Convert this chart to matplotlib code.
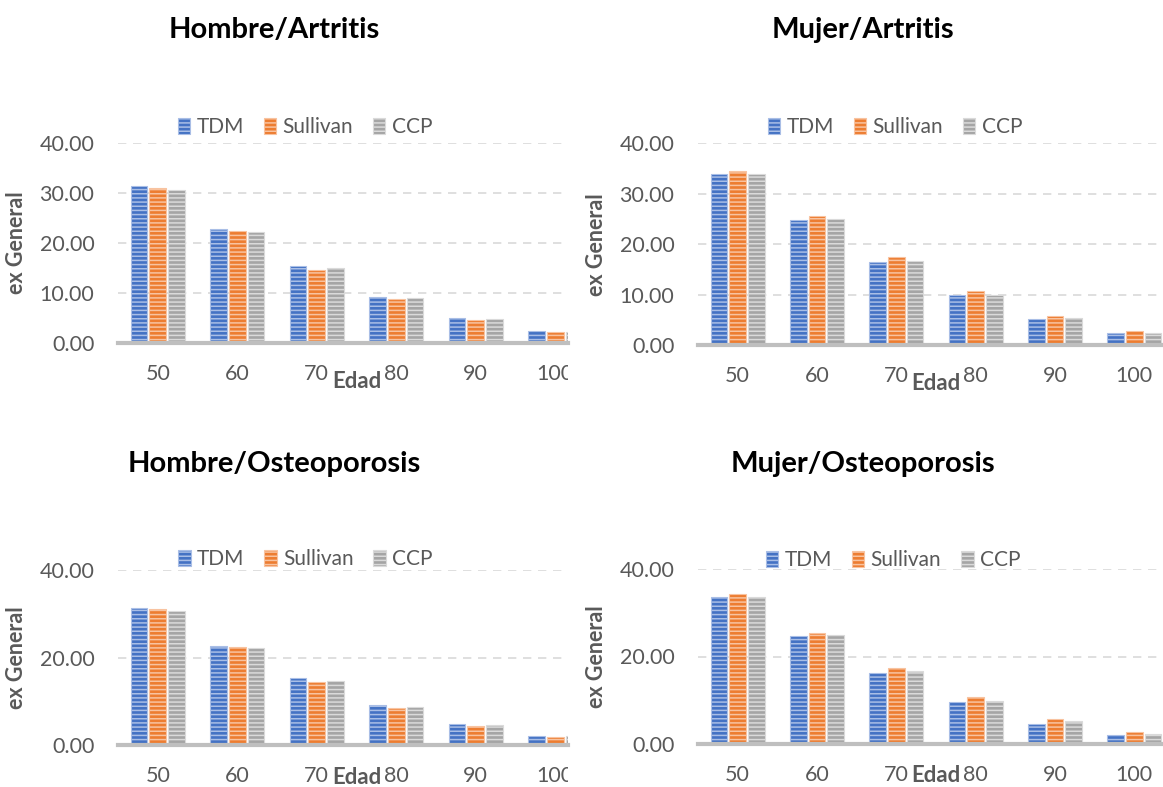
import numpy as np
import matplotlib
matplotlib.use('Agg')
import matplotlib.pyplot as plt
from matplotlib.patches import Rectangle, Patch

plt.rcParams['font.family'] = ['Lato', 'DejaVu Sans']
plt.rcParams['hatch.linewidth'] = 1.1

edad = [50, 60, 70, 80, 90, 100]
series = ['TDM', 'Sullivan', 'CCP']

hombre_artritis_tdm = [31.3, 22.8, 15.4, 9.2, 5.0, 2.4]
hombre_artritis_sul = [30.9, 22.3, 14.6, 8.7, 4.5, 2.1]
hombre_artritis_ccp = [30.5, 22.2, 14.9, 8.9, 4.8, 2.2]

mujer_artritis_tdm = [33.9, 24.7, 16.5, 9.9, 5.1, 2.3]
mujer_artritis_sul = [34.5, 25.5, 17.4, 10.7, 5.8, 2.8]
mujer_artritis_ccp = [33.9, 25.0, 16.7, 10.0, 5.3, 2.4]

hombre_osteo_tdm = [31.3, 22.7, 15.4, 9.2, 4.8, 2.1]
hombre_osteo_sul = [31.0, 22.3, 14.5, 8.5, 4.3, 1.9]
hombre_osteo_ccp = [30.7, 22.2, 14.7, 8.8, 4.6, 2.0]

mujer_osteo_tdm = [33.7, 24.6, 16.3, 9.5, 4.6, 2.0]
mujer_osteo_sul = [34.4, 25.4, 17.3, 10.7, 5.8, 2.8]
mujer_osteo_ccp = [33.7, 24.9, 16.7, 9.9, 5.2, 2.4]

titles = ['Hombre/Artritis', 'Mujer/Artritis', 'Hombre/Osteoporosis', 'Mujer/Osteoporosis']

# fill color, stripe color
colors = [('#4472C4', '#A9BEE6'), ('#ED7D31', '#F8C3A0'), ('#A5A5A5', '#DADADA')]
txt_gray = '#595959'

fig = plt.figure(figsize=(11.63, 7.87), dpi=100)

# panel boxes in pixels: left, axis zero y, visible width, height, full chart width
W, H = 1163.0, 787.0
panels = [
    (118, 343, 450, 200, 477, [0, 10, 20, 30, 40], (hombre_artritis_tdm, hombre_artritis_sul, hombre_artritis_ccp), (0.392, 1.08), 39),
    (698, 345, 476, 201.7, 476, [0, 10, 20, 30, 40], (mujer_artritis_tdm, mujer_artritis_sul, mujer_artritis_ccp), (0.414, 1.081), 39),
    (118, 745, 450, 175, 477, [0, 20, 40], (hombre_osteo_tdm, hombre_osteo_sul, hombre_osteo_ccp), (0.393, 1.063), 32),
    (698, 744, 476, 175, 476, [0, 20, 40], (mujer_osteo_tdm, mujer_osteo_sul, mujer_osteo_ccp), (0.41, 1.051), 32),
]

x = np.arange(len(edad))
bw = 0.21
step = 0.235

for left, zero, w, h, full_w, yt, data, leg_pos, edad_off in panels:
    ax = fig.add_axes([left / W, 1 - zero / H, w / W, h / H])
    for i in range(3):
        ax.bar(x + (i - 1) * step, data[i], bw, color=colors[i][0],
               edgecolor=colors[i][1], linewidth=0.8, hatch='----', zorder=3)
    # left charts are cut off on the right side
    ax.set_xlim(-0.5, -0.5 + len(edad) * w / full_w)
    ax.set_ylim(0, 40)
    ax.set_yticks(yt)
    ax.set_yticklabels(['%.2f' % v for v in yt])
    ax.set_xticks(x)
    ax.set_xticklabels([str(e) for e in edad])
    ax.tick_params(length=0, labelsize=15.5, labelcolor=txt_gray)
    ax.tick_params(axis='x', pad=15)
    ax.tick_params(axis='y', pad=17)
    for s in ['top', 'right', 'left']:
        ax.spines[s].set_visible(False)
    ax.spines['bottom'].set_color('#BFBFBF')
    ax.spines['bottom'].set_linewidth(3)
    ax.spines['bottom'].set_zorder(4)
    ax.yaxis.grid(True, color='#D9D9D9', linewidth=1.2, linestyle=(0, (5, 4)))
    ax.set_axisbelow(True)
    ax.set_ylabel('ex General', fontsize=15.5, fontweight='bold', color=txt_gray)
    ax.yaxis.set_label_coords(-91.0 / w, 0.5)
    ax.text((full_w / 2.0) / w, -edad_off / h, 'Edad', transform=ax.transAxes, ha='center',
            va='center', fontsize=16, fontweight='bold', color=txt_gray)

    handles = [Patch(facecolor=colors[i][0], edgecolor=colors[i][1], hatch='----',
                     linewidth=0.8, label=series[i]) for i in range(3)]
    lx = leg_pos[0] * full_w / w
    ax.legend(handles=handles, loc='center', bbox_to_anchor=(lx, leg_pos[1]), ncol=3,
              frameon=False, fontsize=15, labelcolor=txt_gray, handlelength=0.6,
              handleheight=0.8, handletextpad=0.3, columnspacing=0.95, borderaxespad=0)

# hide the part of the "100" label that falls outside the cropped chart
for y0, y1 in [(352, 400), (752, 787)]:
    fig.patches.append(Rectangle((568 / W, 1 - y1 / H), 20 / W, (y1 - y0) / H,
                                 transform=fig.transFigure, facecolor='white',
                                 edgecolor='none', zorder=10))

title_pos = [(274, 30), (863, 30), (274, 464), (863, 464)]
for t, (tx, ty) in zip(titles, title_pos):
    fig.text(tx / W, 1 - ty / H, t, ha='center', va='center', fontsize=21, fontweight='bold')

fig.savefig('out.png', dpi=100)
